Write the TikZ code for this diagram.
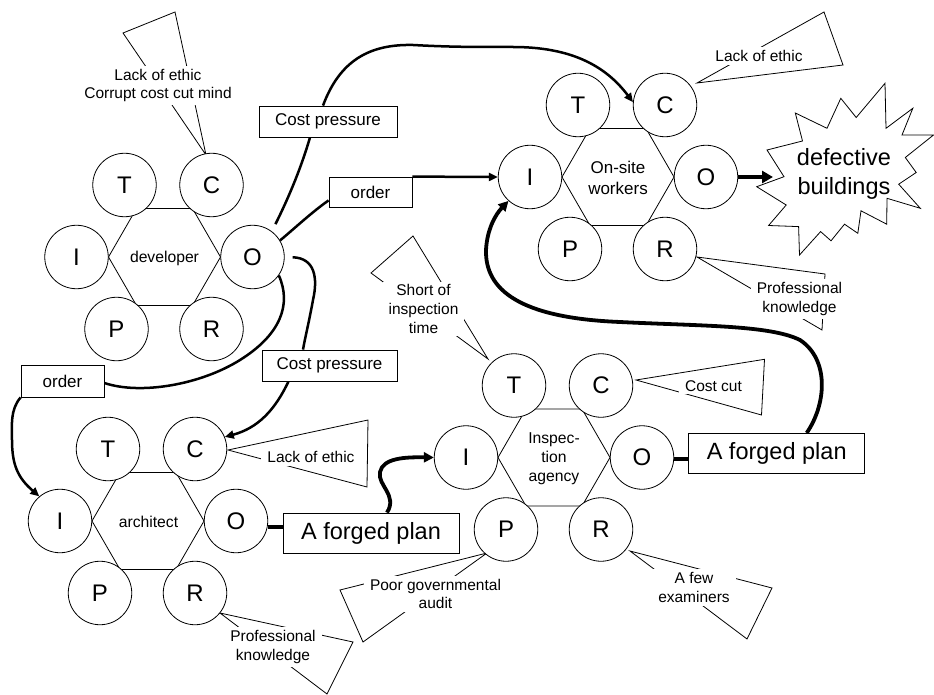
\documentclass[tikz,border=0pt]{standalone}
\usepackage{fontspec}
\setmainfont{Liberation Sans}
\usetikzlibrary{arrows.meta}
\pgfdeclarelayer{back}
\pgfdeclarelayer{bg}
\pgfsetlayers{back,bg,main}
\tikzset{
  outl/.style={line width=0.8pt, line join=miter},
  circ/.style={circle, draw, line width=0.8pt, fill=white, minimum size=63.5pt, inner sep=0pt, font=\fontsize{24}{28}\selectfont},
  hexlbl/.style={align=center, inner sep=0pt, font=\fontsize{15.7}{19}\selectfont},
  lbox/.style={draw, line width=0.8pt, fill=white, inner sep=0pt, font=\fontsize{17}{20}\selectfont},
  bigbox/.style={draw, line width=0.8pt, fill=white, inner sep=0pt, minimum width=176pt, minimum height=40pt, font=\fontsize{23.5}{28}\selectfont},
  note/.style={fill=white, align=center, inner xsep=6pt, inner ysep=3pt, font=\fontsize{15.5}{18.7}\selectfont},
  conn/.style={line width=2.5pt, line join=round},
  fat/.style={line width=3.8pt, line join=round},
  arr/.style={-{Triangle[length=9pt,width=8pt]}},
  bigarr/.style={-{Triangle[length=10pt,width=10pt]}},
}
\newcommand\tcgroup[3]{%
  \begin{pgfonlayer}{bg}
    \draw[outl,shift={(#2,#3)}] (56,0) -- (28,48.5) -- (-28,48.5) -- (-56,0) -- (-28,-48.5) -- (28,-48.5) -- cycle;
  \end{pgfonlayer}
  \begin{scope}[shift={(#2,#3)}]
    \node[circ] (#1T) at (-40,-72) {T};
    \node[circ] (#1C) at (47,-72) {C};
    \node[circ] (#1I) at (-88,0) {I};
    \node[circ] (#1O) at (88,0) {O};
    \node[circ] (#1P) at (-48,72) {P};
    \node[circ] (#1R) at (47,72) {R};
  \end{scope}}
\begin{document}
\begin{tikzpicture}[x=1pt,y=-1pt]
\useasboundingbox (0,0) rectangle (934,695);
\begin{pgfonlayer}{back}
  \fill[white] (0,0) rectangle (934,695);
\end{pgfonlayer}

% groups
\tcgroup{d}{164.5}{257}
\tcgroup{w}{618}{177}
\tcgroup{a}{148}{521}
\tcgroup{i}{554}{457.5}
\node[hexlbl] (dlbl) at (164.5,258) {developer};
\node[hexlbl, font=\fontsize{17}{20.5}\selectfont] (wlbl) at (618,178) {On-site\\workers};
\node[hexlbl] (albl) at (148.5,522) {architect};
\node[hexlbl] (ilbl) at (554,459) {Inspec-\\tion\\agency};

% label boxes
\node[lbox, minimum width=138pt, minimum height=31pt] (cp1) at (328,121.5) {Cost pressure};
\node[lbox, minimum width=83pt, minimum height=30pt] (ord1) at (370.5,192) {order};
\node[lbox, minimum width=135pt, minimum height=31pt] (cp2) at (329.5,365.5) {Cost pressure};
\node[lbox, minimum width=83pt, minimum height=32pt] (ord2) at (62.5,381) {order};
\node[bigbox] (fp1) at (371,533) {A forged plan};
\node[bigbox] (fp2) at (776.7,453.3) {A forged plan};

% starburst
\draw[outl] (756.7,186.7) -- (784,176.7) -- (767,150) -- (802.5,141) -- (795.3,113) -- (827,128.3)
  -- (840.8,98.3) -- (856.2,117.5) -- (885,83.3) -- (886,128.3) -- (912.8,108.3) -- (902,135)
  -- (933.5,135) -- (905.3,157.5) -- (916.2,172.5) -- (898.7,184.2) -- (920.3,208.3) -- (887,198.3)
  -- (886.7,224.2) -- (861,210.8) -- (857.8,233.3) -- (844.5,224.2) -- (831,240.8) -- (820.6,231.6)
  -- (799.5,255) -- (798.6,226.6) -- (768.6,225.5) -- (786.2,205) -- cycle;
\node[align=center, inner sep=0pt, font=\fontsize{23.5}{28.3}\selectfont] (burst) at (844,174) {defective\\buildings};
\coordinate (bdin) at (773,177);

% callout wedges
\begin{pgfonlayer}{bg}
  \draw[outl] (123,33) -- (175,12) -- (206,155) -- cycle;
  \draw[outl] (697,83) -- (824,12) -- (843,65) -- cycle;
  \draw[outl] (697,257) -- (825,274) -- (822,330) -- cycle;
  \draw[outl] (371,273) -- (413,236) -- (488,359) -- cycle;
  \draw[outl] (636,380) -- (764.5,359.3) -- (761.5,415) -- cycle;
  \draw[outl] (487,553) -- (340,590) -- (363,642) -- cycle;
  \draw[outl] (630,551) -- (772,588) -- (747,639) -- cycle;
  \draw[outl] (228,450) -- (368,420) -- (367,487) -- cycle;
  \draw[outl] (220,613) -- (353,642) -- (327,694) -- cycle;
\end{pgfonlayer}
\node[note] (n1) at (158,85.5) {Lack of ethic\\Corrupt cost cut mind};
\node[note] (n2) at (759,56) {Lack of ethic};
\node[note] (n3) at (799.5,299) {Professional\\knowledge};
\node[note] (n4) at (423.5,309) {Short of\\inspection\\time};
\node[note] (n5) at (713.5,386) {Cost cut};
\node[note] (n6) at (435.5,594) {Poor governmental\\audit};
\node[note] (n7) at (694,587.5) {A few\\examiners};
\node[note] (n8) at (311,457) {Lack of ethic};
\node[note] (n9) at (273,647) {Professional\\knowledge};

% connectors
\begin{pgfonlayer}{bg}
  \draw[conn, shorten <=8pt] (dO.53) .. controls (290,195) and (302,165) .. ([xshift=-18pt]cp1.south);
  \draw[conn, arr] ([xshift=-5pt]cp1.north) .. controls (340,60) and (370,44) .. (413,45)
     .. controls (450,47) and (470,47) .. (513,47) .. controls (570,47) and (605,65) .. (wC.175);
  \draw[conn] (dO.31) .. controls (295,228) and (312,212) .. ([yshift=7pt]ord1.south west);
  \draw[conn, arr] (ord1.north east) -- (wI.west);
  \draw[conn, shorten <=8pt] (dO.0) .. controls (315,258) and (318,278) .. (313,300)
     .. controls (309,322) and (305,338) .. ([xshift=-26.5pt]cp2.north);
  \draw[conn, arr] ([xshift=-41pt]cp2.south) .. controls (275,410) and (258,428) .. (aC.22);
  \draw[conn] (dO.325) .. controls (292,305) and (280,335) .. (240,360)
     .. controls (200,385) and (140,395) .. ([yshift=-2pt]ord2.east);
  \draw[conn, arr] (ord2.south west) .. controls (10,410) and (12,425) .. (12,440)
     .. controls (12,465) and (18,478) .. (aI.130);
  \draw[fat] (aO.349) -- (aO.349 -| fp1.west);
  \draw[fat, bigarr] ([xshift=16pt]fp1.north) .. controls (398,495) and (377,485) .. (380,472)
     .. controls (383,458) and (405,457) .. (iI.west);
  \draw[fat] (iO.357) -- (iO.357 -| fp2.west);
  \draw[fat, bigarr] ([xshift=30pt]fp2.north) .. controls (826,405) and (830,360) .. (800,340)
     .. controls (770,325) and (700,326) .. (620,322) .. controls (520,318) and (485,290) .. (486,250)
     .. controls (487,230) and (495,215) .. (wI.228);
  \draw[line width=4.5pt, -{Triangle[length=11pt,width=12pt]}] (wO.east) -- (bdin);
\end{pgfonlayer}
\end{tikzpicture}
\end{document}
